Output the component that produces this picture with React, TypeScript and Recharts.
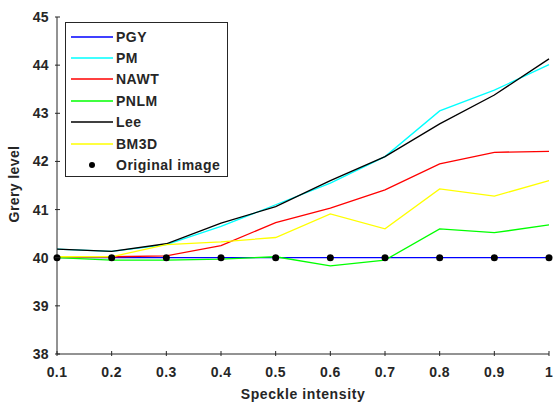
import React from 'react';
import { ComposedChart, Line, Scatter, XAxis, YAxis } from 'recharts';

// speckle intensity levels
const intensity = [0.1, 0.2, 0.3, 0.4, 0.5, 0.6, 0.7, 0.8, 0.9, 1];

// grey level of each method
const pgy = [40.0, 40.0, 40.0, 40.0, 40.0, 40.0, 40.0, 40.0, 40.0, 40.0];
const pm = [40.18, 40.13, 40.27, 40.65, 41.1, 41.55, 42.1, 43.05, 43.48, 44.01];
const nawt = [40.02, 40.02, 40.04, 40.25, 40.73, 41.03, 41.41, 41.95, 42.19, 42.21];
const pnlm = [40.0, 39.95, 39.95, 39.97, 40.02, 39.83, 39.95, 40.6, 40.52, 40.68];
const lee = [40.18, 40.13, 40.29, 40.72, 41.06, 41.6, 42.1, 42.78, 43.38, 44.13];
const bm3d = [40.02, 40.02, 40.27, 40.33, 40.42, 40.91, 40.6, 41.43, 41.28, 41.6];
const original = [40, 40, 40, 40, 40, 40, 40, 40, 40, 40];

const yTicks = [38, 39, 40, 41, 42, 43, 44, 45];

const data = intensity.map((x, i) => ({
  x,
  pgy: pgy[i],
  pm: pm[i],
  nawt: nawt[i],
  pnlm: pnlm[i],
  lee: lee[i],
  bm3d: bm3d[i],
  original: original[i],
}));

const FONT = '"Liberation Sans", Arial, sans-serif';
const AXIS = '#262626';
const LW = 1.3;

const legendItems = [
  { name: 'PGY', color: '#0000ff' },
  { name: 'PM', color: '#00ffff' },
  { name: 'NAWT', color: '#ff0000' },
  { name: 'PNLM', color: '#00ff00' },
  { name: 'Lee', color: '#000000' },
  { name: 'BM3D', color: '#ffff00' },
  { name: 'Original image', color: '#000000', dot: true },
];

// ticks point inward like matlab
const BottomTick = (props: any) => {
  const { x, y, payload } = props;
  return (
    <g>
      <line x1={x} y1={y} x2={x} y2={y - 5} stroke={AXIS} />
      <text x={x} y={y + 21} textAnchor="middle" fontFamily={FONT} fontWeight="bold" fontSize={14} letterSpacing={0.4} fill="#262626">
        {payload.value}
      </text>
    </g>
  );
};

const LeftTick = (props: any) => {
  const { x, y, payload } = props;
  return (
    <g>
      <line x1={x} y1={y} x2={x + 5} y2={y} stroke={AXIS} />
      <text x={x - 6} y={y + 5} textAnchor="end" fontFamily={FONT} fontWeight="bold" fontSize={14} letterSpacing={0.4} fill="#262626">
        {payload.value}
      </text>
    </g>
  );
};

const TopTick = (props: any) => {
  const { x, y } = props;
  return <line x1={x} y1={y} x2={x} y2={y + 5} stroke={AXIS} />;
};

const RightTick = (props: any) => {
  const { x, y } = props;
  return <line x1={x} y1={y} x2={x - 5} y2={y} stroke={AXIS} />;
};

const LegendBox = () => (
  <div
    style={{
      position: 'absolute',
      left: 65,
      top: 22,
      border: '1px solid #262626',
      background: '#fff',
      width: 163,
      height: 155,
      boxSizing: 'border-box',
      padding: '3px 0 0 0',
      fontFamily: FONT,
      fontWeight: 'bold',
      fontSize: 14,
      letterSpacing: 0.5,
      color: '#262626',
    }}
  >
    {legendItems.map((item) => (
      <div key={item.name} style={{ display: 'flex', alignItems: 'center', height: 21.4 }}>
        <svg width={50} height={10} style={{ flexShrink: 0 }}>
          {item.dot ? (
            <circle cx={26} cy={5} r={3} fill={item.color} />
          ) : (
            <line x1={5} y1={5} x2={47} y2={5} stroke={item.color} strokeWidth={LW} />
          )}
        </svg>
        <span style={{ whiteSpace: 'nowrap' }}>{item.name}</span>
      </div>
    ))}
  </div>
);

export default function App() {
  return (
    <div style={{ position: 'absolute', left: 0, top: 0, width: 553, height: 403, background: '#fff' }}>
      <ComposedChart width={553} height={403} data={data} margin={{ top: 17, right: 4, left: 0, bottom: 0 }}>
        <XAxis
          dataKey="x"
          type="number"
          domain={[0.1, 1]}
          ticks={intensity}
          tickSize={0}
          tickLine={false}
          height={49}
          stroke={AXIS}
          tick={<BottomTick />}
          interval={0}
        />
        <XAxis
          xAxisId="top"
          dataKey="x"
          orientation="top"
          type="number"
          domain={[0.1, 1]}
          ticks={intensity}
          tickSize={0}
          tickLine={false}
          height={0}
          stroke={AXIS}
          tick={<TopTick />}
          interval={0}
        />
        <YAxis
          type="number"
          domain={[38, 45]}
          ticks={yTicks}
          tickSize={0}
          tickLine={false}
          width={57}
          stroke={AXIS}
          tick={<LeftTick />}
          interval={0}
        />
        <YAxis
          yAxisId="right"
          orientation="right"
          type="number"
          domain={[38, 45]}
          ticks={yTicks}
          tickSize={0}
          tickLine={false}
          width={0}
          stroke={AXIS}
          tick={<RightTick />}
          interval={0}
        />
        {/* invisible series so the top and right frame axes get drawn */}
        <Line
          xAxisId="top"
          yAxisId="right"
          dataKey="pgy"
          stroke="none"
          dot={false}
          legendType="none"
          isAnimationActive={false}
        />
        <Line dataKey="pgy" name="PGY" stroke="#0000ff" strokeWidth={LW} dot={false} isAnimationActive={false} />
        <Line dataKey="pm" name="PM" stroke="#00ffff" strokeWidth={LW} dot={false} isAnimationActive={false} />
        <Line dataKey="nawt" name="NAWT" stroke="#ff0000" strokeWidth={LW} dot={false} isAnimationActive={false} />
        <Line dataKey="pnlm" name="PNLM" stroke="#00ff00" strokeWidth={LW} dot={false} isAnimationActive={false} />
        <Line dataKey="lee" name="Lee" stroke="#000000" strokeWidth={LW} dot={false} isAnimationActive={false} />
        <Line dataKey="bm3d" name="BM3D" stroke="#ffff00" strokeWidth={LW} dot={false} isAnimationActive={false} />
        <Scatter
          dataKey="original"
          name="Original image"
          fill="#000000"
          isAnimationActive={false}
          shape={(p: any) => <circle cx={p.cx} cy={p.cy} r={3.5} fill="#000" />}
        />
        <text x={303} y={399} textAnchor="middle" fontFamily={FONT} fontWeight="bold" fontSize={14} letterSpacing={0.6} fill="#262626">
          Speckle intensity
        </text>
        <text
          x={19}
          y={184}
          transform="rotate(-90 19 184)"
          textAnchor="middle"
          fontFamily={FONT}
          fontWeight="bold"
          fontSize={14}
          letterSpacing={0.4}
          fill="#262626"
        >
          Grery level
        </text>
      </ComposedChart>
      <LegendBox />
    </div>
  );
}
